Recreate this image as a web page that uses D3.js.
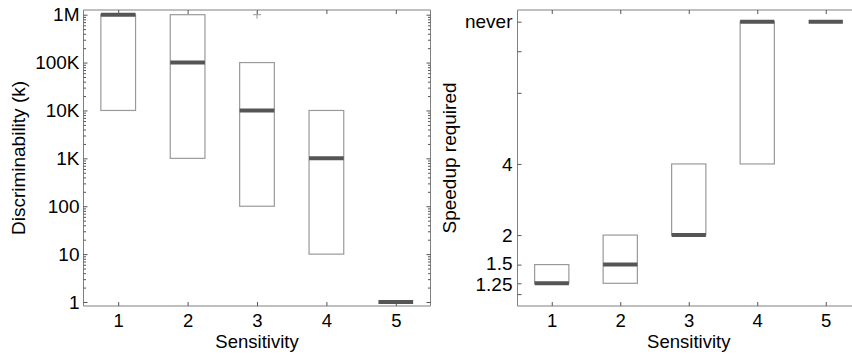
<!DOCTYPE html>
<html>
<head>
<meta charset="utf-8">
<script src="https://cdn.jsdelivr.net/npm/d3@7/dist/d3.min.js"></script>
<style>
  html, body { margin: 0; padding: 0; background: #fff; }
  svg { display: block; font-family: "Liberation Sans", Arial, sans-serif; }
  text { fill: #000; }
</style>
</head>
<body>
<svg id="chart" width="852" height="354"></svg>
<script>
// ---- Data ----
const sensitivity = [1, 2, 3, 4, 5];

// Left panel: discriminability (k)
const discLow    = [1e4, 1e3, 100, 10, 1];
const discHigh   = [1e6, 1e6, 1e5, 1e4, 1];
const discMedian = [1e6, 1e5, 1e4, 1e3, 1];
const discOutlierSens  = [3];
const discOutlierValue = [1e6];
const discTickValues = [1, 10, 100, 1e3, 1e4, 1e5, 1e6];
const discTickLabels = ["1", "10", "100", "1K", "10K", "100K", "1M"];

// Right panel: speedup required ("never" plotted at 16)
const speedLow    = [1.25, 1.25, 2, 4, 16];
const speedHigh   = [1.5, 2, 4, 16, 16];
const speedMedian = [1.25, 1.5, 2, 16, 16];
const speedTickValues = [1.25, 1.5, 2, 4, 16];
const speedTickLabels = ["1.25", "1.5", "2", "4", "never"];
const speedMinorTicks = [1.125, 8, 12];

const xLabel = "Sensitivity";
const leftYLabel = "Discriminability (k)";
const rightYLabel = "Speedup required";

// ---- Drawing ----
const svg = d3.select("#chart");
const FONT = 19;
const XFONT = 18.5;
const boxStroke = "#9a9a9a";
const medColor = "#555555";
const axisColor = "#808080";
const tickColor = "#555555";
const FAM = "Liberation Sans, Arial, sans-serif";

function panel(opts) {
  const { left, right, top, bottom, y, tickValues, tickLabels, minorTicks,
          low, high, median, ylabel, ylabelX, labelPad, rightAxis } = opts;
  const g = svg.append("g");
  const x = d3.scaleLinear().domain([0.5, 5.5]).range([left, right]);

  // frame
  g.append("line").attr("x1", left).attr("x2", left).attr("y1", top).attr("y2", bottom)
    .attr("stroke", axisColor).attr("stroke-width", 1);
  g.append("line").attr("x1", left).attr("x2", right).attr("y1", top).attr("y2", top)
    .attr("stroke", axisColor).attr("stroke-width", 1);
  g.append("line").attr("x1", left).attr("x2", right).attr("y1", bottom).attr("y2", bottom)
    .attr("stroke", axisColor).attr("stroke-width", 1);
  if (rightAxis) {
    g.append("line").attr("x1", right).attr("x2", right).attr("y1", top).attr("y2", bottom)
      .attr("stroke", axisColor).attr("stroke-width", 1);
  }

  // bottom axis
  const xb = g.append("g").attr("transform", `translate(0,${bottom})`)
    .call(d3.axisBottom(x).tickValues(sensitivity).tickFormat(d3.format("d"))
      .tickSize(-4).tickSizeOuter(0).tickPadding(7.5));
  // top axis ticks
  const xt = g.append("g").attr("transform", `translate(0,${top})`)
    .call(d3.axisTop(x).tickValues(sensitivity).tickFormat("")
      .tickSize(-4).tickSizeOuter(0));
  [xb, xt].forEach(a => {
    a.select(".domain").remove();
    a.selectAll("line").attr("stroke", tickColor);
    a.selectAll("text").attr("font-size", XFONT).attr("font-family", FAM).attr("fill", "#000");
  });

  // left axis
  const yl = g.append("g").attr("transform", `translate(${left},0)`)
    .call(d3.axisLeft(y).tickValues(tickValues).tickFormat((d, i) => tickLabels[i])
      .tickSize(-4).tickSizeOuter(0).tickPadding(labelPad));
  yl.select(".domain").remove();
  yl.selectAll("line").attr("stroke", tickColor);
  yl.selectAll("text").attr("font-size", FONT).attr("font-family", FAM).attr("fill", "#000");
  if (opts.labelNudge) {
    yl.selectAll("text").attr("y", d => opts.labelNudge[d] || 0);
  }

  const ylm = g.append("g").attr("transform", `translate(${left},0)`)
    .call(d3.axisLeft(y).tickValues(minorTicks).tickFormat("")
      .tickSize(opts.minorSize).tickSizeOuter(0));
  ylm.select(".domain").remove();
  ylm.selectAll("line").attr("stroke", tickColor);

  if (rightAxis) {
    const yr = g.append("g").attr("transform", `translate(${right},0)`)
      .call(d3.axisRight(y).tickValues(tickValues).tickFormat("").tickSize(-4).tickSizeOuter(0));
    yr.select(".domain").remove();
    yr.selectAll("line").attr("stroke", tickColor);
    const yrm = g.append("g").attr("transform", `translate(${right},0)`)
      .call(d3.axisRight(y).tickValues(minorTicks).tickFormat("").tickSize(opts.minorSize).tickSizeOuter(0));
    yrm.select(".domain").remove();
    yrm.selectAll("line").attr("stroke", tickColor);
  }

  // boxes
  const halfW = 0.25;
  sensitivity.forEach((s, i) => {
    if (high[i] !== low[i]) {
      g.append("rect")
        .attr("x", x(s - halfW)).attr("width", x(s + halfW) - x(s - halfW))
        .attr("y", y(high[i])).attr("height", y(low[i]) - y(high[i]))
        .attr("fill", "none").attr("stroke", boxStroke).attr("stroke-width", 1.2);
    }
    g.append("line")
      .attr("x1", x(s - halfW)).attr("x2", x(s + halfW))
      .attr("y1", y(median[i])).attr("y2", y(median[i]))
      .attr("stroke", medColor).attr("stroke-width", 4);
  });

  if (opts.outSens) {
    opts.outSens.forEach((s, i) => {
      const cx = x(s), cy = y(opts.outVal[i]);
      g.append("path").attr("d", `M${cx - 4},${cy}H${cx + 4}M${cx},${cy - 4}V${cy + 4}`)
        .attr("stroke", "#999").attr("stroke-width", 1).attr("fill", "none");
    });
  }

  // labels
  g.append("text")
    .attr("x", x(3)).attr("y", 348).attr("text-anchor", "middle")
    .attr("font-size", XFONT).attr("font-family", FAM).text(xLabel);
  g.append("text").attr("transform", `translate(${ylabelX},158) rotate(-90)`)
    .attr("text-anchor", "middle").attr("font-size", FONT).attr("font-family", FAM).text(ylabel);
}

// left panel scale
const yLeft = d3.scaleLog().domain([Math.pow(10, -0.0835), Math.pow(10, 6.098)]).range([306, 10]);
const discMinor = [];
for (let e = 0; e < 7; e++) for (let m = 2; m <= 9; m++) {
  const v = m * Math.pow(10, e);
  if (v < Math.pow(10, 6.098)) discMinor.push(v);
}
panel({
  left: 83.5, right: 430.5, top: 10, bottom: 306, y: yLeft,
  tickValues: discTickValues, tickLabels: discTickLabels, minorTicks: discMinor, minorSize: -2.5,
  low: discLow, high: discHigh, median: discMedian,
  ylabel: leftYLabel, ylabelX: 25, labelPad: 4, rightAxis: true,
  outSens: discOutlierSens, outVal: discOutlierValue
});

// right panel scale (log base 2)
const yRight = d3.scaleLog().base(2).domain([1.002, 17.93]).range([306, 10]);
panel({
  left: 517.5, right: 860, top: 10, bottom: 306, y: yRight,
  tickValues: speedTickValues, tickLabels: speedTickLabels, minorTicks: speedMinorTicks, minorSize: -4,
  low: speedLow, high: speedHigh, median: speedMedian,
  ylabel: rightYLabel, ylabelX: 456, labelPad: 5, rightAxis: false,
  labelNudge: { 1.5: -1.3, 1.25: 1.3 }
});
</script>
</body>
</html>
